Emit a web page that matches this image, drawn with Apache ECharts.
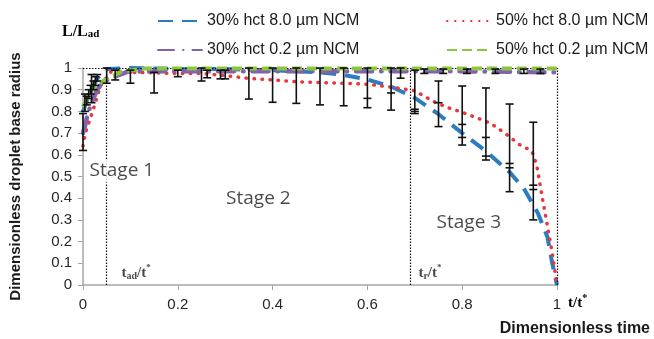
<!DOCTYPE html>
<html>
<head>
<meta charset="utf-8">
<script src="https://cdn.jsdelivr.net/npm/echarts@6/dist/echarts.min.js"></script>
<style>
html,body{margin:0;padding:0;background:#fff;}
#chart{width:654px;height:339px;}
</style>
</head>
<body>
<div id="chart"></div>
<script>
// ---------- DATA ----------
const seriesNames = ['30% hct 8.0 µm NCM', '50% hct 8.0 µm NCM', '30% hct 0.2 µm NCM', '50% hct 0.2 µm NCM'];

const blueX = [0, 0.01, 0.02, 0.03, 0.04, 0.05, 0.1, 0.2, 0.3, 0.4, 0.45, 0.5, 0.55, 0.6, 0.65, 0.7, 0.75, 0.8, 0.85, 0.9, 0.93, 0.96, 0.98, 0.99, 1.0];
const blueY = [0.80, 0.86, 0.91, 0.95, 0.98, 0.995, 1.0, 0.995, 0.995, 0.99, 0.985, 0.98, 0.968, 0.947, 0.915, 0.862, 0.787, 0.70, 0.617, 0.52, 0.445, 0.33, 0.22, 0.10, 0.0];

const redX = [0, 0.005, 0.01, 0.016, 0.021, 0.026, 0.03, 0.04, 0.06, 0.1, 0.2, 0.25, 0.3, 0.35, 0.4, 0.45, 0.5, 0.55, 0.6, 0.65, 0.7, 0.74, 0.77, 0.8, 0.83, 0.86, 0.89, 0.92, 0.947, 0.957, 0.97, 0.98, 0.99, 1.0];
const redY = [0.64, 0.70, 0.734, 0.77, 0.806, 0.837, 0.872, 0.93, 0.985, 0.98, 0.975, 0.975, 0.965, 0.952, 0.945, 0.937, 0.933, 0.93, 0.925, 0.912, 0.895, 0.845, 0.817, 0.796, 0.771, 0.745, 0.70, 0.648, 0.617, 0.553, 0.39, 0.27, 0.147, 0.0];

const purpleX = [0, 0.005, 0.01, 0.02, 0.03, 0.04, 0.056, 0.095, 0.2, 0.4, 0.6, 0.8, 1.0];
const purpleY = [0.70, 0.74, 0.79, 0.85, 0.90, 0.93, 0.952, 0.983, 0.985, 0.985, 0.985, 0.985, 0.98];

const greenX = [0, 0.01, 0.021, 0.046, 0.081, 0.13, 0.3, 0.5, 0.7, 0.9, 1.0];
const greenY = [0.82, 0.865, 0.906, 0.945, 0.983, 0.998, 0.998, 0.998, 0.998, 0.998, 0.998];

// error bars: x, low, high, optional middle ticks
const errX    = [0, 0.004, 0.008, 0.012, 0.016, 0.018, 0.022, 0.026, 0.03, 0.05, 0.068, 0.10, 0.15, 0.20, 0.25, 0.262, 0.29, 0.30, 0.35, 0.40, 0.45, 0.50, 0.55, 0.60, 0.65, 0.67, 0.70, 0.72, 0.75, 0.76, 0.80, 0.81, 0.85, 0.87, 0.90, 0.93, 0.95, 0.965];
const errLow  = [0.62, 0.80, 0.83, 0.86, 0.88, 0.84, 0.90, 0.92, 0.94, 0.93, 0.945, 0.93, 0.885, 0.96, 0.94, 0.955, 0.95, 0.95, 0.857, 0.842, 0.837, 0.83, 0.826, 0.817, 0.806, 0.953, 0.79, 0.975, 0.73, 0.975, 0.645, 0.975, 0.576, 0.975, 0.43, 0.975, 0.30, 0.975];
const errHigh = [0.79, 0.88, 0.87, 0.90, 0.92, 0.97, 0.94, 0.96, 0.97, 1.0, 0.99, 0.99, 0.98, 0.99, 1.0, 0.99, 0.99, 0.99, 1.0, 1.0, 1.0, 1.0, 1.0, 1.0, 1.0, 1.0, 0.99, 0.995, 0.94, 0.995, 0.917, 0.995, 0.908, 0.995, 0.834, 0.995, 0.75, 0.995];
const errMid1 = [null, null, null, null, null, null, null, null, null, null, null, null, null, null, null, null, null, null, null, null, null, null, null, 0.86, 0.885, null, 0.81, null, 0.84, null, 0.74, null, 0.68, null, 0.56, null, 0.46, null];
const errMid2 = [null, null, null, null, null, null, null, null, null, null, null, null, null, null, null, null, null, null, null, null, null, null, null, null, null, null, 0.80, null, null, null, 0.68, null, 0.594, null, 0.54, null, 0.44, null];

// reference lines
const tAd = 0.053;
const tR = 0.686;

// annotations (data coordinates)
const stageText = ['Stage 1', 'Stage 2', 'Stage 3'];
const stageX = [0.082, 0.370, 0.814];
const stageY = [0.525, 0.396, 0.286];

const xTickLabels = ['0', '0.2', '0.4', '0.6', '0.8', '1'];

// ---------- CHART ----------
const zip = (xs, ys) => xs.map((x, i) => [x, ys[i]]);
const chart = echarts.init(document.getElementById('chart'));
const baseFont = 'Liberation Sans, Arial, sans-serif';
const serif = 'Liberation Serif, Times New Roman, serif';

function legendAt(name, left, top) {
  return {
    data: [name], left: left, top: top, padding: 0, itemWidth: 44, itemHeight: 14, itemGap: 6,
    itemStyle: {opacity: 0},
    textStyle: {fontFamily: baseFont, fontSize: 16, color: '#1a1a1a'},
    selectedMode: false
  };
}

const option = {
  animation: false,
  backgroundColor: '#fff',
  legend: [
    legendAt(seriesNames[0], 157, 13),
    legendAt(seriesNames[1], 446, 13),
    legendAt(seriesNames[2], 157, 42),
    legendAt(seriesNames[3], 446, 42)
  ],
  grid: {left: 83, right: 97, top: 68, bottom: 54},
  xAxis: {
    type: 'value', min: 0, max: 1, interval: 0.2,
    axisLine: {lineStyle: {color: '#a6a6a6', width: 1.5}},
    axisTick: {show: true, length: 5, lineStyle: {color: '#a6a6a6'}},
    axisLabel: {
      fontFamily: baseFont, fontSize: 15, color: '#262626', margin: 12,
      formatter: (v) => { const i = Math.round(v / 0.2); return xTickLabels[i] !== undefined ? xTickLabels[i] : ''; }
    },
    splitLine: {show: false}
  },
  yAxis: {
    type: 'value', min: 0, max: 1, interval: 0.1,
    name: 'Dimensionless droplet base radius', nameLocation: 'middle', nameRotate: 90, nameGap: 60,
    nameTextStyle: {fontFamily: baseFont, fontSize: 15, fontWeight: 'bold', color: '#1a1a1a'},
    axisLine: {show: true, lineStyle: {color: '#a6a6a6', width: 1.5}},
    axisTick: {show: true, length: 5, lineStyle: {color: '#a6a6a6'}},
    axisLabel: {fontFamily: baseFont, fontSize: 15, color: '#262626', margin: 11},
    splitLine: {show: false}
  },
  graphic: [
    {type: 'text', left: 62, top: 24, style: {
      text: '{b|L/L}{s|ad}', rich: {
        b: {fontFamily: serif, fontWeight: 'bold', fontSize: 16, color: '#1a1a1a', verticalAlign: 'bottom', lineHeight: 20},
        s: {fontFamily: serif, fontWeight: 'bold', fontSize: 11, color: '#1a1a1a', verticalAlign: 'bottom', lineHeight: 14, padding: [4, 0, 0, 0]}
      }}},
    {type: 'text', left: 568, top: 293, style: {
      text: '{b|t/t}{p|*}', rich: {
        b: {fontFamily: serif, fontWeight: 'bold', fontSize: 15, color: '#1a1a1a', lineHeight: 18, verticalAlign: 'bottom'},
        p: {fontFamily: serif, fontWeight: 'bold', fontSize: 10, color: '#1a1a1a', verticalAlign: 'top', lineHeight: 18}
      }}},
    {type: 'text', right: 4, top: 321, style: {
      text: 'Dimensionless time', fontFamily: baseFont, fontWeight: 'bold', fontSize: 16, fill: '#1a1a1a'}}
  ],
  series: [
    {
      name: seriesNames[0], type: 'line', data: zip(blueX, blueY), symbol: 'none', z: 3,
      itemStyle: {color: '#2b7cc0'},
      lineStyle: {color: '#2b7cc0', width: 4, type: [15, 9]},
      markLine: {
        silent: true, symbol: 'none', label: {show: false},
        lineStyle: {color: '#111', width: 1.2, type: [1.5, 1.5]},
        data: [{xAxis: tAd}, {xAxis: tR}, {xAxis: 1}, {yAxis: 1}]
      }
    },
    {
      name: seriesNames[1], type: 'line', data: zip(redX, redY), symbol: 'none', z: 3,
      itemStyle: {color: '#e8363a'},
      lineStyle: {color: '#e8363a', width: 3.5, type: [0.5, 7.5], cap: 'round'}
    },
    {
      name: seriesNames[2], type: 'line', data: zip(purpleX, purpleY), symbol: 'none', z: 4,
      itemStyle: {color: '#8063a8'},
      lineStyle: {color: '#8063a8', width: 4.5, type: [16, 9, 0.5, 9], cap: 'round'}
    },
    {
      name: seriesNames[3], type: 'line', data: zip(greenX, greenY), symbol: 'none', z: 5,
      itemStyle: {color: '#8cc63f'},
      lineStyle: {color: '#8cc63f', width: 4, type: [10, 5]}
    },
    {
      name: 'errors', type: 'custom', z: 6, silent: true,
      encode: {x: 0, y: [1, 2]},
      data: errX.map((x, i) => [x, errLow[i], errHigh[i],
        errMid1[i] == null ? '-' : errMid1[i], errMid2[i] == null ? '-' : errMid2[i]]),
      renderItem: function (params, api) {
        const x = api.value(0);
        const top = api.coord([x, api.value(2)]);
        const bot = api.coord([x, api.value(1)]);
        const hw = 4;
        const st = {stroke: '#111', lineWidth: 1.6};
        const children = [
          {type: 'line', shape: {x1: top[0], y1: top[1], x2: bot[0], y2: bot[1]}, style: st},
          {type: 'line', shape: {x1: top[0] - hw, y1: top[1], x2: top[0] + hw, y2: top[1]}, style: st},
          {type: 'line', shape: {x1: bot[0] - hw, y1: bot[1], x2: bot[0] + hw, y2: bot[1]}, style: st}
        ];
        [api.value(3), api.value(4)].forEach(function (m) {
          if (!isNaN(m)) {
            const p = api.coord([x, m]);
            children.push({type: 'line', shape: {x1: p[0] - hw, y1: p[1], x2: p[0] + hw, y2: p[1]}, style: st});
          }
        });
        return {type: 'group', children: children};
      }
    },
    {
      name: 'stages', type: 'scatter', z: 10, silent: true, symbolSize: 0,
      data: stageText.map((t, i) => ({name: t, value: [stageX[i], stageY[i]]})),
      label: {
        show: true, position: 'inside', formatter: '{b}',
        fontFamily: 'Open Sans, sans-serif', fontSize: 19, color: '#1a1a1a',
        backgroundColor: '#fff', padding: [2, 1]
      }
    },
    {
      name: 'times', type: 'scatter', z: 10, silent: true, symbolSize: 0,
      data: [
        {value: [0.112, 0.06], label: {formatter: '{b|t}{s|ad}{b|/t}{p|*}'}},
        {value: [0.732, 0.06], label: {formatter: '{b|t}{s|r}{b|/t}{p|*}'}}
      ],
      label: {
        show: true, position: 'inside',
        rich: {
          b: {fontFamily: serif, fontWeight: 'bold', fontSize: 15, color: '#1a1a1a', verticalAlign: 'bottom', lineHeight: 18},
          s: {fontFamily: serif, fontWeight: 'bold', fontSize: 10, color: '#1a1a1a', verticalAlign: 'bottom', lineHeight: 14},
          p: {fontFamily: serif, fontWeight: 'bold', fontSize: 9, color: '#1a1a1a', verticalAlign: 'top', lineHeight: 18}
        }
      }
    }
  ]
};
chart.setOption(option);
</script>
</body>
</html>
